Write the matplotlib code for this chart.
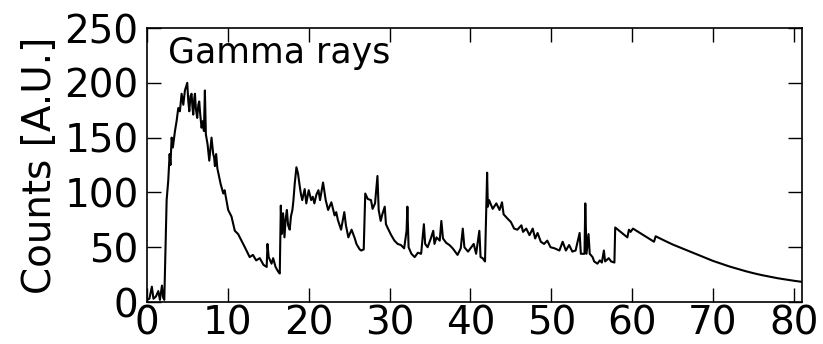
import matplotlib
matplotlib.use("Agg")
import matplotlib.pyplot as plt

# values (energy axis, counts)
x_vals = [
    0.0, 0.3, 0.6, 0.8, 1.1, 1.4, 1.6, 1.85, 2.0, 2.14,
    2.43, 2.63, 2.8, 2.9, 3.05, 3.2, 3.46, 3.66, 3.87, 4.07,
    4.28, 4.49, 4.69, 4.98, 5.1, 5.23, 5.38, 5.51, 5.62, 5.72,
    5.85, 5.93, 6.05, 6.21, 6.35, 6.46, 6.6, 6.75, 6.9, 7.04,
    7.16, 7.28, 7.49, 7.7, 7.85, 7.98, 8.19, 8.3, 8.4, 8.55,
    8.7, 8.93, 9.1, 9.43, 9.6, 10.04, 10.45, 10.86, 11.27, 11.69,
    12.1, 12.5, 12.7, 13.1, 13.5, 13.95, 14.4, 14.8, 14.9, 15.05,
    15.4, 15.6, 15.9, 16.2, 16.42, 16.55, 16.65, 16.83, 17.0, 17.15,
    17.3, 17.45, 17.65, 17.8, 17.98, 18.1, 18.27, 18.48, 18.68, 18.9,
    19.05, 19.2, 19.5, 19.7, 20.0, 20.3, 20.5, 20.7, 20.95, 21.2,
    21.4, 21.77, 22.1, 22.4, 22.8, 23.2, 23.4, 23.6, 24.0, 24.4,
    24.6, 24.9, 25.3, 25.7, 25.9, 26.3, 26.5, 26.8, 26.99, 27.3,
    27.7, 27.9, 28.2, 28.5, 28.65, 28.9, 29.1, 29.4, 29.55, 29.8,
    30.2, 30.6, 31.0, 31.4, 31.8, 32.1, 32.2, 32.35, 32.7, 33.1,
    33.5, 33.9, 34.24, 34.4, 34.7, 35.1, 35.4, 35.55, 35.8, 36.2,
    36.4, 36.6, 37.0, 37.4, 37.8, 38.4, 38.8, 39.05, 39.25, 39.7,
    40.0, 40.4, 40.7, 41.1, 41.25, 41.5, 41.8, 42.06, 42.15, 42.3,
    42.75, 43.2, 43.6, 43.9, 44.1, 44.6, 45.0, 45.4, 45.8, 46.3,
    46.5, 46.9, 47.3, 47.7, 48.0, 48.3, 48.7, 49.1, 49.5, 49.9,
    50.4, 51.0, 51.4, 51.8, 52.2, 52.6, 53.0, 53.5, 53.65, 54.1,
    54.2, 54.35, 54.6, 54.75, 55.1, 55.3, 55.7, 56.0, 56.25, 56.5,
    56.65, 57.1, 57.4, 57.8, 57.9, 58.4, 59.4, 59.6, 59.8, 60.1,
    62.7, 62.9, 64.0, 65.0, 66.0, 67.0, 68.0, 69.0, 70.0, 71.0,
    72.0, 73.0, 74.0, 75.0, 76.0, 77.0, 78.0, 79.0, 80.0, 81.0,
]
counts = [
    2, 3, 14, 3, 5, 10, 2, 15, 4, 2,
    93, 111, 135, 125, 150, 141, 156, 165, 177, 174,
    190, 180, 193, 200, 184, 174, 188, 190, 178, 171,
    186, 190, 176, 168, 180, 183, 170, 159, 165, 156,
    193, 153, 144, 129, 140, 150, 135, 132, 124, 135,
    122, 114, 108, 99, 102, 84, 78, 65, 62, 56,
    50, 44, 41, 43, 38, 40, 34, 32, 53, 41,
    35, 40, 32, 28, 26, 88, 62, 81, 59, 76,
    84, 70, 66, 78, 84, 92, 108, 123, 117, 105,
    98, 93, 103, 90, 102, 93, 96, 90, 98, 102,
    93, 109, 93, 84, 91, 79, 82, 75, 66, 82,
    70, 59, 66, 58, 53, 48, 47, 48, 99, 94,
    93, 85, 90, 115, 84, 74, 80, 87, 71, 67,
    61, 56, 53, 52, 49, 65, 87, 50, 44, 41,
    45, 44, 71, 53, 50, 58, 65, 53, 59, 56,
    74, 58, 54, 52, 49, 43, 49, 67, 50, 46,
    49, 53, 44, 65, 41, 40, 37, 118, 87, 93,
    85, 90, 84, 91, 80, 76, 73, 67, 66, 70,
    64, 67, 61, 67, 58, 63, 55, 53, 56, 50,
    49, 47, 55, 47, 52, 46, 47, 63, 44, 44,
    90, 44, 62, 44, 41, 37, 35, 38, 36, 47,
    37, 40, 37, 36, 68, 65, 59, 66, 64, 67,
    55, 60, 56, 52.5, 49.5, 46.5, 43.5, 40.5, 37.5, 35,
    32.5, 30.3, 28.2, 26.3, 24.6, 23.1, 21.7, 20.5, 19.4, 18.4,
]

x_ticks = [0, 10, 20, 30, 40, 50, 60, 70, 80]
y_ticks = [0, 50, 100, 150, 200, 250]

plt.rcParams['xtick.direction'] = 'in'
plt.rcParams['ytick.direction'] = 'in'
plt.rcParams['xtick.top'] = True
plt.rcParams['ytick.right'] = True

fig = plt.figure(figsize=(8.23, 3.44), dpi=100)
ax = fig.add_axes([0.1786, 0.122, 0.7959, 0.7966])

ax.plot(x_vals, counts, color='black', lw=1.5)

ax.set_xlim(0, 81)
ax.set_ylim(0, 250)
ax.set_xticks(x_ticks)
ax.set_yticks(y_ticks)
ax.tick_params(labelsize=28, length=10, width=1.0)
ax.tick_params(axis='x', pad=1.5)
ax.tick_params(axis='y', pad=6)
ax.set_ylabel("Counts [A.U.]", fontsize=28, labelpad=4)
for s in ax.spines.values():
    s.set_linewidth(1.2)

ax.text(0.032, 0.872, "Gamma rays", transform=ax.transAxes,
        fontsize=25, va='baseline', ha='left')

fig.savefig("out.png", dpi=100)
